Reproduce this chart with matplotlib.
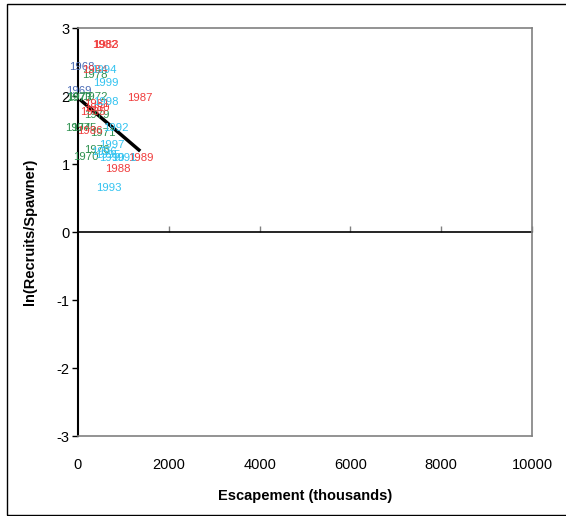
import matplotlib
matplotlib.use("Agg")
import matplotlib.pyplot as plt
from matplotlib.patches import Rectangle

plt.rcParams['font.family'] = ['Liberation Sans', 'DejaVu Sans']
plt.rcParams['axes.unicode_minus'] = False

# brood years, escapement (thousands), ln(recruits/spawner)
years_60s = ['1968', '1969']
esc_60s = [88, 22]
lnrs_60s = [2.43, 2.07]

years_70s = ['1970', '1971', '1972', '1973', '1974', '1975', '1976', '1977', '1978', '1979']
esc_70s = [176, 551, 375, 10, 0, 132, 419, 44, 375, 419]
lnrs_70s = [1.10, 1.46, 1.99, 1.97, 1.53, 1.53, 1.21, 1.99, 2.31, 1.72]

years_80s = ['1980', '1981', '1982', '1983', '1984', '1985', '1986', '1987', '1988', '1989']
esc_80s = [419, 419, 595, 617, 375, 330, 264, 1366, 881, 1388]
lnrs_80s = [1.82, 1.88, 2.75, 2.75, 2.38, 1.76, 1.49, 1.97, 0.93, 1.09]

years_90s = ['1990', '1991', '1992', '1993', '1994', '1995', '1996', '1997', '1998', '1999']
esc_90s = [749, 1013, 837, 683, 573, 661, 573, 749, 617, 617]
lnrs_90s = [1.09, 1.09, 1.53, 0.65, 2.38, 1.13, 1.18, 1.28, 1.91, 2.19]

fit_x = [40, 1370]
fit_y = [1.95, 1.19]

groups = [
    (years_60s, esc_60s, lnrs_60s, '#4a6bb5'),
    (years_70s, esc_70s, lnrs_70s, '#2e9150'),
    (years_80s, esc_80s, lnrs_80s, '#f03c3c'),
    (years_90s, esc_90s, lnrs_90s, '#33c3f0'),
]

fig = plt.figure(figsize=(5.66, 5.16), dpi=100)
fig.patches.append(Rectangle((7 / 566, 1 - 515 / 516), 1.2, 511 / 516, transform=fig.transFigure,
                             fill=False, edgecolor='black', linewidth=1.0))
ax = fig.add_axes([78 / 566, 1 - 436 / 516, 454 / 566, 408 / 516])

for labels, xs, ys, col in groups:
    for lab, x, y in zip(labels, xs, ys):
        ax.text(x, y, lab, color=col, fontsize=8.2, ha='center', va='center')

ax.plot(fit_x, fit_y, color='black', linewidth=2.5, solid_capstyle='butt')

ax.set_xlim(0, 10000)
ax.set_ylim(-3, 3)
ax.set_yticks(range(-3, 4))
ax.set_xticks(range(0, 10001, 2000))
ax.tick_params(axis='x', length=0, pad=16, labelsize=10.5)
ax.tick_params(axis='y', length=4, width=1, direction='out', pad=2, labelsize=10.5)

for side in ['top', 'right', 'bottom']:
    ax.spines[side].set_color('#808080')
    ax.spines[side].set_linewidth(1.2)
ax.spines['left'].set_color('black')
ax.spines['left'].set_linewidth(1.5)

# axis line through y = 0 with downward ticks
zero_axis = ax.secondary_xaxis(0.5)
zero_axis.set_xticks(range(2000, 10001, 2000))
zero_axis.set_xticklabels([])
zero_axis.tick_params(axis='x', length=4, width=1, color='#808080', direction='out',
                      labelbottom=False, labeltop=False)
for s in zero_axis.spines.values():
    s.set_color('black')
    s.set_linewidth(1.2)

ax.set_xlabel('Escapement (thousands)', fontsize=10.5, fontweight='bold', labelpad=12)
ax.set_ylabel('ln(Recruits/Spawner)', fontsize=10.5, fontweight='bold', labelpad=14)

fig.savefig('out.png', dpi=100)
